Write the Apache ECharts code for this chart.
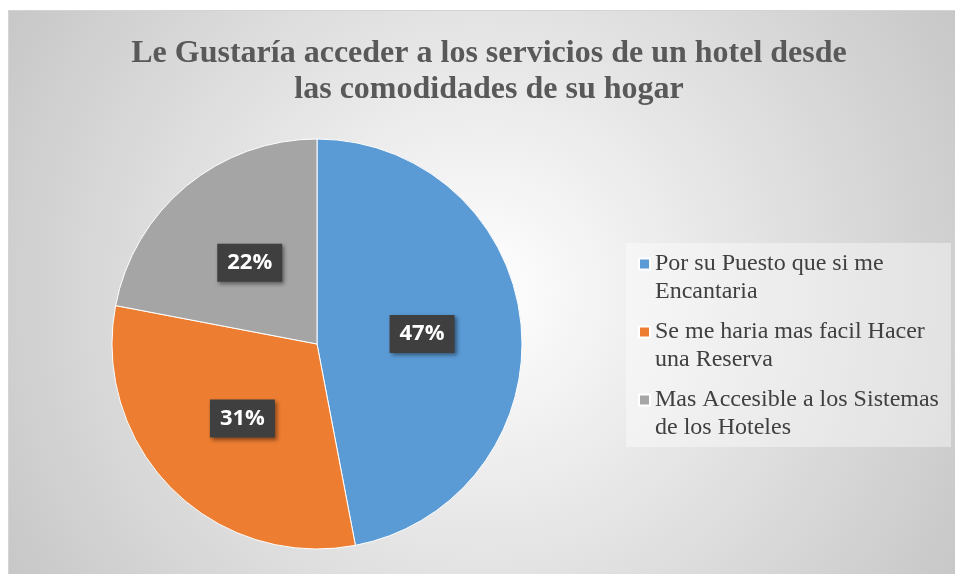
<!DOCTYPE html>
<html>
<head>
<meta charset="utf-8">
<script src="https://cdn.jsdelivr.net/npm/echarts@6/dist/echarts.min.js"></script>
<style>
  html, body { margin: 0; padding: 0; background: #fff; }
  #main {
    position: absolute; left: 8px; top: 10px;
    width: 946px; height: 563px;
    border-left: 1px solid #d4d4d4; border-top: 1px solid #d4d4d4;
  }
</style>
</head>
<body>
<div id="main"></div>
<script>
var titleText = 'Le Gustaría acceder a los servicios de un hotel desde\nlas comodidades de su hogar'
var categories = ['Por su Puesto que si me Encantaria', 'Se me haria mas facil Hacer una Reserva', 'Mas Accesible a los Sistemas de los Hoteles']
var legendLines = ['Por su Puesto que si me\nEncantaria', 'Se me haria mas facil Hacer\nuna Reserva', 'Mas Accesible a los Sistemas\nde los Hoteles']
var percents = [47, 31, 22]
var colors = ['#5B9BD5', '#ED7D31', '#A5A5A5']

var chart = echarts.init(document.getElementById('main'))

chart.setOption({
  backgroundColor: {
    type: 'radial', x: 0.5, y: 0.5, r: 1,
    colorStops: [
      { offset: 0, color: '#ffffff' },
      { offset: 1, color: '#c6c6c6' }
    ]
  },
  title: {
    text: titleText,
    left: 475,
    top: 20,
    textAlign: 'center',
    textStyle: {
      fontFamily: 'Liberation Serif',
      fontWeight: 'bold',
      fontSize: 32,
      lineHeight: 36,
      color: '#595959'
    }
  },
  graphic: [{
    type: 'rect',
    left: 617, top: 232,
    shape: { width: 325, height: 204 },
    style: { fill: 'rgba(255,255,255,0.4)' },
    silent: true
  }],
  legend: {
    orient: 'vertical',
    left: 629,
    top: 211,
    padding: 0,
    itemWidth: 11,
    itemHeight: 11,
    itemGap: -16,
    icon: 'rect',
    // leading empty line keeps the marker level with the first text line
    formatter: function (name) {
      return '\n' + legendLines[categories.indexOf(name)]
    },
    textStyle: {
      fontFamily: 'Liberation Serif',
      fontSize: 24,
      lineHeight: 28,
      color: '#404040'
    }
  },
  series: [{
    type: 'pie',
    center: [308, 333],
    radius: 205,
    startAngle: 90,
    clockwise: true,
    animation: false,
    itemStyle: { borderColor: '#ffffff', borderWidth: 1 },
    label: {
      position: 'inside',
      formatter: '{c}%',
      color: '#ffffff',
      fontFamily: 'Open Sans',
      fontWeight: 'bold',
      fontSize: 22,
      lineHeight: 24,
      backgroundColor: '#3f3f3f',
      padding: [7, 10],
      shadowColor: 'rgba(0,0,0,0.45)',
      shadowBlur: 4,
      shadowOffsetX: 2,
      shadowOffsetY: 2
    },
    labelLine: { show: false },
    emphasis: { disabled: true },
    data: categories.map(function (c, i) {
      return { name: c, value: percents[i], itemStyle: { color: colors[i] } }
    })
  }]
})
</script>
</body>
</html>
